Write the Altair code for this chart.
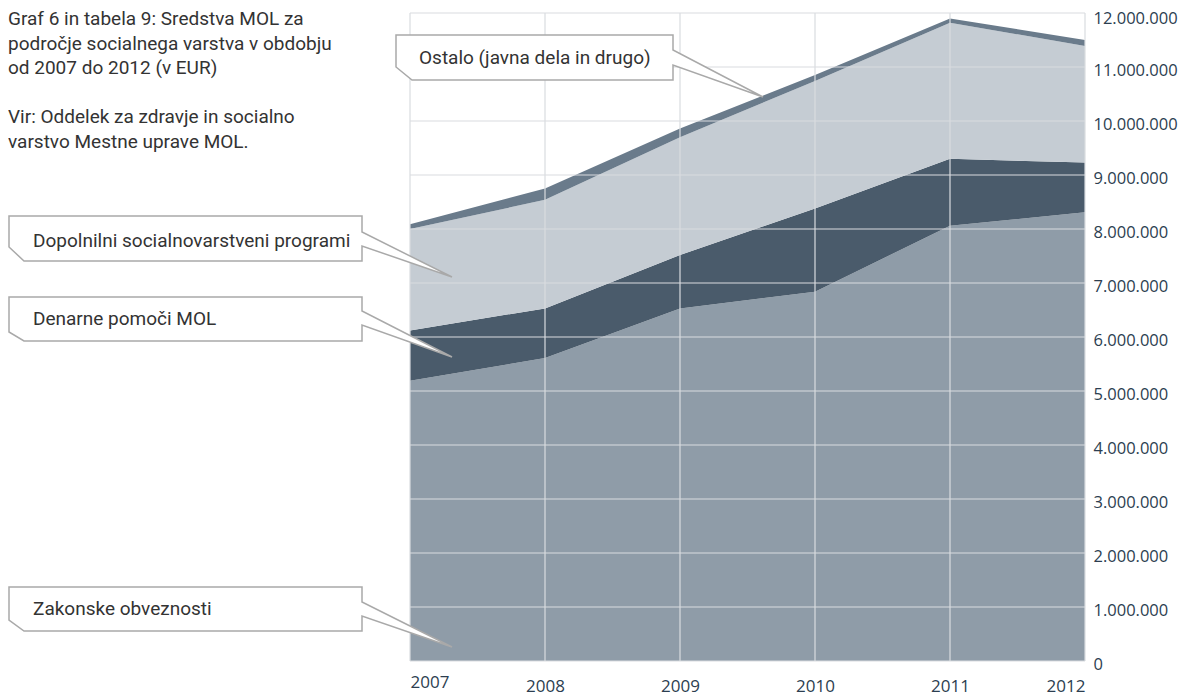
import altair as alt
import pandas as pd

# ---- data (EUR) ----
years = [2007, 2008, 2009, 2010, 2011, 2012]
series = ["Zakonske obveznosti", "Denarne pomoči MOL",
          "Dopolnilni socialnovarstveni programi", "Ostalo (javna dela in drugo)"]
zakonske = [5190000, 5610000, 6530000, 6840000, 8060000, 8310000]
denarne = [930000, 920000, 990000, 1540000, 1240000, 920000]
dopolnilni = [1880000, 2010000, 2180000, 2360000, 2520000, 2160000]
ostalo = [90000, 210000, 160000, 110000, 80000, 110000]
colors = ["#8f9ca8", "#4a5b6b", "#c5ccd3", "#6a7b8b"]
y_ticks = list(range(0, 12000001, 1000000))

title_lines = ["Graf 6 in tabela 9: Sredstva MOL za",
               "področje socialnega varstva v obdobju",
               "od 2007 do 2012 (v EUR)",
               "Vir: Oddelek za zdravje in socialno",
               "varstvo Mestne uprave MOL."]

W, H = 675, 648
OX, OY = 410, 13  # plot origin on page (used to place decorations)
TXT_FONT = "Roboto"
AX_FONT = "Open Sans"

rows = []
for k, (name, vals) in enumerate(zip(series, [zakonske, denarne, dopolnilni, ostalo])):
    for yr, v in zip(years, vals):
        rows.append({"year": yr, "value": v, "series": name, "k": k})
df = pd.DataFrame(rows)

x_scale = alt.Scale(domain=[2007, 2012], nice=False, zero=False)
y_scale = alt.Scale(domain=[0, 12000000], nice=False)
x_axis = alt.Axis(values=years, format="d", title=None, grid=False, domain=False,
                  ticks=False, labelFlush=True,
                  labelPadding={"condition": {"test": "datum.value == 2007", "value": 13}, "value": 17},
                  labelFontSize=17, labelColor="#2c3e50", labelFont=AX_FONT)
y_axis = alt.Axis(orient="right", values=y_ticks, format=",d", title=None, grid=False,
                  domain=False, ticks=False, labelPadding=8, labelFontSize=16.5,
                  labelOffset={"condition": {"test": "datum.value == 12000000", "value": 5.5}, "value": 3.5},
                  labelColor="#2c3e50", labelFont=AX_FONT, labelAlign="left")

areas = alt.Chart(df).mark_area(opacity=1, interpolate="linear").encode(
    x=alt.X("year:Q", scale=x_scale, axis=x_axis),
    y=alt.Y("value:Q", stack="zero", scale=y_scale, axis=y_axis),
    color=alt.Color("series:N", scale=alt.Scale(domain=series, range=colors), legend=None),
    order=alt.Order("k:Q", sort="ascending"),
)

vrules = alt.Chart(pd.DataFrame({"year": years})).mark_rule(
    color="#d9dcdf", strokeWidth=1.2).encode(x=alt.X("year:Q", scale=x_scale, axis=x_axis))
hrules = alt.Chart(pd.DataFrame({"value": y_ticks})).mark_rule(
    color="#d9dcdf", strokeWidth=1.2).encode(y=alt.Y("value:Q", scale=y_scale, axis=y_axis))

plot = alt.layer(areas, vrules, hrules)

# ---- callouts (decoration, page pixel geometry) ----
callouts = {
    "Ostalo": [(396, 35), (673, 35), (673, 50), (763, 97), (673, 65), (673, 80), (412, 80), (396, 67)],
    "Dopolnilni": [(9, 216), (362, 216), (362, 232), (452, 277), (362, 246), (362, 261), (24, 261), (9, 247)],
    "Denarne": [(9, 297), (362, 297), (362, 311), (452, 357), (362, 325), (362, 341), (24, 341), (9, 332)],
    "Zakonske": [(9, 587), (362, 587), (362, 602), (452, 647), (362, 616), (362, 631), (24, 631), (9, 620)],
}
crow = []
for name, pts in callouts.items():
    for i, (px, py) in enumerate(pts):
        crow.append({"name": name, "i": i, "px": px - OX, "py": py - OY})
cdf = pd.DataFrame(crow)

boxes = alt.Chart(cdf).mark_line(interpolate="linear-closed", fill="white", stroke="#a9a9a9",
                                 strokeWidth=1.5).encode(
    x=alt.X("px:Q", scale=None, axis=None),
    y=alt.Y("py:Q", scale=None, axis=None),
    detail="name:N",
    order="i:Q",
)

label_pos = [(series[3], 419, 64), (series[2], 33, 247), (series[1], 33, 325), (series[0], 33, 615)]
ldf = pd.DataFrame([{"t": t, "px": x - OX, "py": y - OY} for t, x, y in label_pos])
labels = alt.Chart(ldf).mark_text(align="left", baseline="alphabetic", fontSize=19, font=TXT_FONT,
                                   color="#333333").encode(
    x=alt.X("px:Q", scale=None, axis=None),
    y=alt.Y("py:Q", scale=None, axis=None),
    text="t:N",
)

title_base = [25, 49.5, 74, 123, 147.5]
tdf = pd.DataFrame([{"t": t, "px": 8 - OX, "py": y - OY} for t, y in zip(title_lines, title_base)])
title = alt.Chart(tdf).mark_text(align="left", baseline="alphabetic", fontSize=19, font=TXT_FONT,
                                  color="#333333").encode(
    x=alt.X("px:Q", scale=None, axis=None),
    y=alt.Y("py:Q", scale=None, axis=None),
    text="t:N",
)

chart = alt.layer(plot, boxes, labels, title).resolve_scale(
    x="independent", y="independent"
).properties(
    width=W, height=H,
    autosize=alt.AutoSizeParams(type="none"),
    padding={"left": 402, "top": 5, "right": 100, "bottom": 35},
).configure(
    locale={"number": {"decimal": ",", "thousands": ".", "grouping": [3], "currency": ["", " €"]}}
).configure_view(stroke=None)

chart.save("out.html", embed_options={"renderer": "svg", "actions": False})
